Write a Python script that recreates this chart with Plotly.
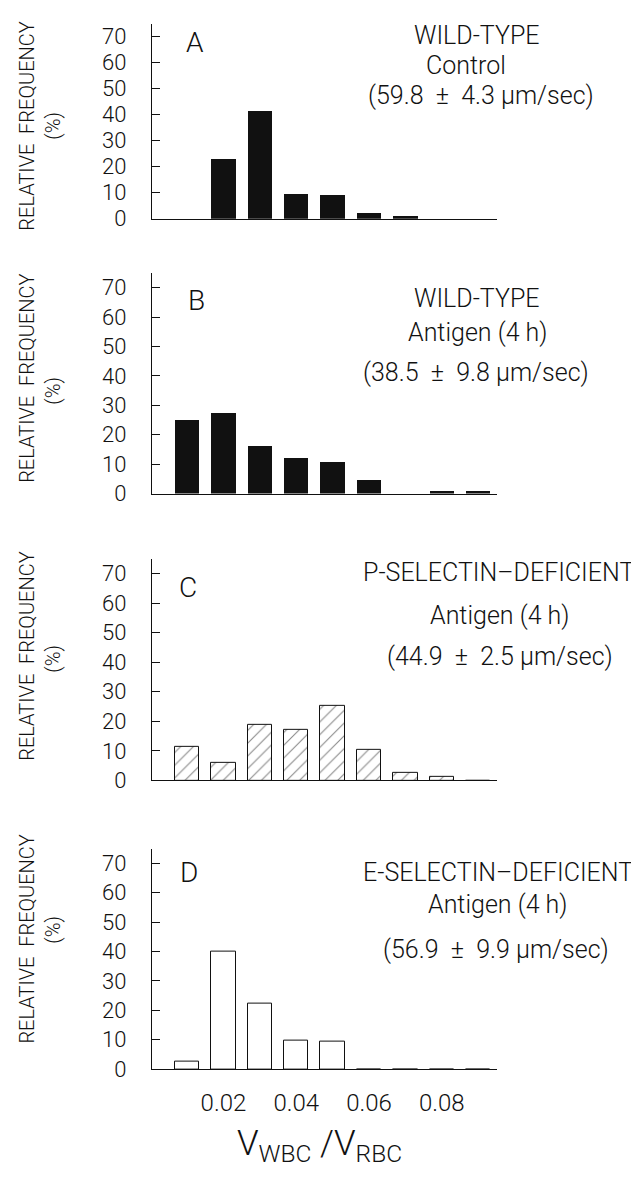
import plotly.graph_objects as go

# ---------------- data ----------------
bins = [0.01, 0.02, 0.03, 0.04, 0.05, 0.06, 0.07, 0.08, 0.09]
freq_a = [0.0, 23.0, 41.5, 9.5, 9.3, 2.3, 1.0, 0.0, 0.0]      # wild-type control
freq_b = [25.1, 27.3, 16.1, 12.2, 10.8, 4.5, 0.0, 1.0, 0.8]   # wild-type antigen
freq_c = [11.2, 6.1, 18.9, 17.1, 25.2, 10.5, 2.5, 1.2, 0.0]   # P-selectin deficient
freq_d = [2.5, 40.0, 22.3, 9.7, 9.5, 0.0, 0.0, 0.0, 0.0]      # E-selectin deficient

panel_letters = ["A", "B", "C", "D"]
line1 = ["WILD-TYPE", "WILD-TYPE", "P-SELECTIN\u2013DEFICIENT", "E-SELECTIN\u2013DEFICIENT"]
line2 = ["Control", "Antigen (4 h)", "Antigen (4 h)", "Antigen (4 h)"]
line3 = [
    "(59.8\u00a0\u00a0\u00b1\u00a0\u00a04.3 \u03bcm/sec)",
    "(38.5\u00a0\u00a0\u00b1\u00a0\u00a09.8 \u03bcm/sec)",
    "(44.9\u00a0\u00a0\u00b1\u00a0\u00a02.5 \u03bcm/sec)",
    "(56.9\u00a0\u00a0\u00b1\u00a0\u00a09.9 \u03bcm/sec)",
]
y_ticks = [0, 10, 20, 30, 40, 50, 60, 70]
x_ticks = [0.02, 0.04, 0.06, 0.08]
x_ticktext = ["0.02", "0.04", "0.06", "0.08"]

# ---------------- layout geometry (pixels) ----------------
W, H = 639, 1178
X_LEFT, X_RIGHT = 144, 489
panel_px = [(15.8, 213), (268, 491), (557, 781), (850, 1073)]
letter_pos = [(187, 35), (188, 296), (180, 586), (181, 874)]
text_pos = [
    [(469, 28), (458, 58), (473, 88)],
    [(469, 294), (470, 328), (468, 369)],
    [(490, 571), (492, 614), (492, 656)],
    [(490, 874), (490, 906), (488, 952)],
]
ylab_pos = [(19, 120), (19, 375), (19, 656), (19, 942)]
pct_pos = [(45, 119), (45, 387), (45, 658), (45, 932)]

FONT = "Roboto, Liberation Sans, Arial, sans-serif"
BLACK = "#111111"

def px(x):
    return x / W

def py(y):
    return 1 - y / H

fig = go.Figure()

series = [freq_a, freq_b, freq_c, freq_d]
styles = ["solid", "solid", "hatch", "open"]

for i, (vals, style) in enumerate(zip(series, styles)):
    ax = "" if i == 0 else str(i + 1)
    if style == "solid":
        marker = dict(color=BLACK, line=dict(width=0))
    elif style == "hatch":
        marker = dict(color="white", line=dict(color=BLACK, width=1),
                      pattern=dict(shape="/", fgcolor=BLACK, bgcolor="white",
                                   size=9, solidity=0.12))
    else:
        marker = dict(color="white", line=dict(color=BLACK, width=1))
    fig.add_trace(go.Bar(x=bins, y=vals, width=0.0067, marker=marker,
                         xaxis="x" + ax, yaxis="y" + ax, showlegend=False,
                         hoverinfo="skip"))

layout = dict(
    width=W, height=H,
    margin=dict(l=0, r=0, t=0, b=0),
    paper_bgcolor="white", plot_bgcolor="white",
    font=dict(family=FONT, color=BLACK, weight=300),
    bargap=0,
)

xdom = [px(X_LEFT), px(X_RIGHT)]
for i, (top, bot) in enumerate(panel_px):
    ax = "" if i == 0 else str(i + 1)
    last = i == 3
    xa = dict(
        domain=xdom, range=[0.00038, 0.09516], anchor="y" + ax,
        showline=True, linecolor=BLACK, linewidth=1.2, showgrid=False,
        zeroline=False, ticks="", showticklabels=last,
    )
    if last:
        xa.update(tickvals=x_ticks, ticktext=x_ticktext,
                  tickfont=dict(size=24, family=FONT, color=BLACK, weight=300),
                  ticklabelstandoff=12)
    layout["xaxis" + ax] = xa
    layout["yaxis" + ax] = dict(
        domain=[py(bot), py(top)], range=[0, 75], anchor="x" + ax,
        showline=True, linecolor=BLACK, linewidth=1.2, showgrid=False,
        zeroline=False, ticks="inside", ticklen=8, tickwidth=1,
        tickcolor=BLACK, tickvals=y_ticks,
        tickfont=dict(size=22, family=FONT, color=BLACK, weight=300),
        ticklabelstandoff=20,
    )

annotations = []
def ann(text, x, y, size, angle=0):
    annotations.append(dict(
        text=text, x=px(x), y=py(y), xref="paper", yref="paper",
        xanchor="center", yanchor="middle", showarrow=False, textangle=angle,
        font=dict(size=size, family=FONT, color=BLACK, weight=300)))

for i in range(4):
    ann(panel_letters[i], letter_pos[i][0], letter_pos[i][1], 28)
    for t, (x, y) in zip([line1[i], line2[i], line3[i]], text_pos[i]):
        ann(t, x, y, 25)
    ann("RELATIVE  FREQUENCY", ylab_pos[i][0], ylab_pos[i][1], 20, -90)
    ann("(%)", pct_pos[i][0], pct_pos[i][1], 20, -90)

ann("V<sub>WBC</sub> /V<sub>RBC</sub>", 311, 1150, 35)

layout["annotations"] = annotations
fig.update_layout(**layout)
fig.write_html("out.html")
